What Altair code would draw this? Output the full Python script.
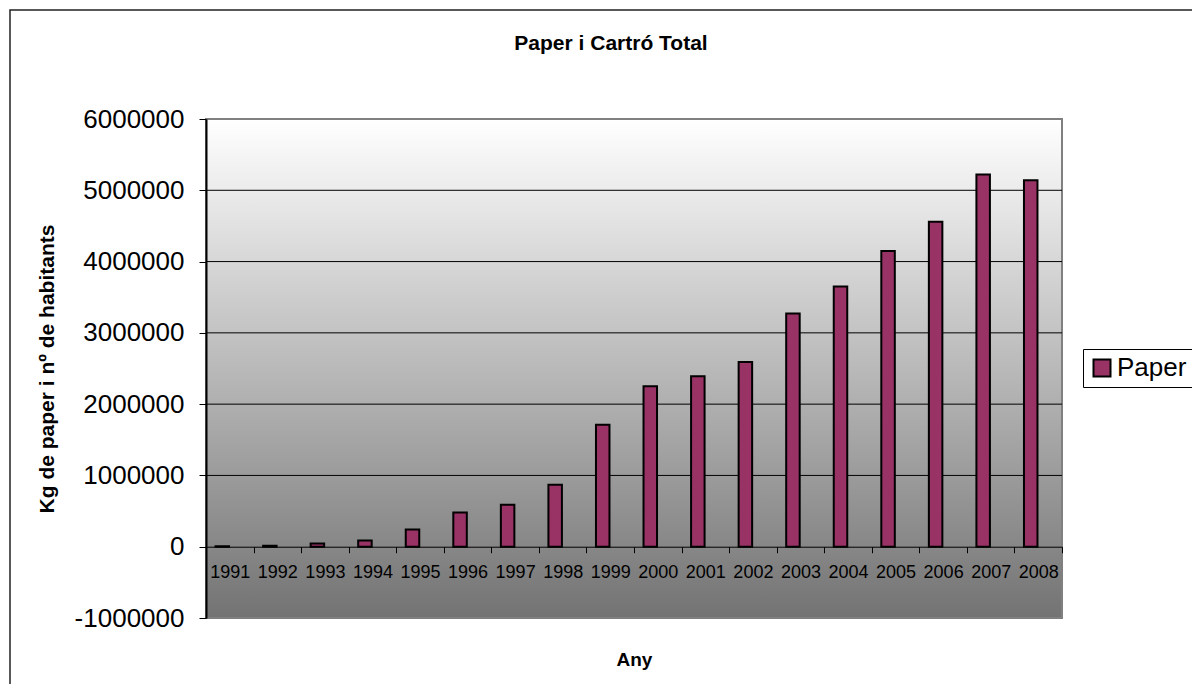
import altair as alt
import pandas as pd

years = ["1991", "1992", "1993", "1994", "1995", "1996", "1997", "1998", "1999",
         "2000", "2001", "2002", "2003", "2004", "2005", "2006", "2007", "2008"]
paper = [8000, 12000, 45000, 88000, 240000, 480000, 590000, 870000, 1710000,
         2250000, 2390000, 2590000, 3270000, 3650000, 4150000, 4560000, 5220000, 5140000]
series_name = "Paper"
chart_title = "Paper i Cartró Total"
y_ticks = [-1000000, 0, 1000000, 2000000, 3000000, 4000000, 5000000, 6000000]
grid_values = [1000000, 2000000, 3000000, 4000000, 5000000]

FONT = "Liberation Sans"
W, H = 856, 499
Y_MIN, Y_MAX = -1000000, 6000000

df = pd.DataFrame({"year": years, "value": paper, "series": series_name})
grid_df = pd.DataFrame({"value": grid_values})
one = pd.DataFrame({"t": [chart_title]})

y_scale = alt.Scale(domain=[Y_MIN, Y_MAX], nice=False, zero=False)
zero_offset = -H * (0 - Y_MIN) / (Y_MAX - Y_MIN)

border = alt.Chart(one).mark_rect(
    fill="white", fillOpacity=0, stroke="#222222", strokeWidth=1.5
).encode(
    x=alt.value(-196), x2=alt.value(1014), y=alt.value(-109), y2=alt.value(594)
)

title = alt.Chart(one).mark_text(
    font=FONT, fontSize=21, fontWeight="bold", color="black",
    align="center", baseline="middle"
).encode(x=alt.value(405), y=alt.value(-75), text="t:N")

bg = alt.Chart(one).mark_rect(
    fill=alt.Gradient(
        gradient="linear",
        stops=[alt.GradientStop(color="#ffffff", offset=0),
               alt.GradientStop(color="#737373", offset=1)],
        x1=0, x2=0, y1=0, y2=1,
    ),
    stroke="#808080", strokeWidth=2,
).encode(
    x=alt.value(0), x2=alt.value(W),
    y=alt.datum(Y_MAX, scale=y_scale), y2=alt.datum(Y_MIN),
)

grid = alt.Chart(grid_df).mark_rule(color="black", strokeWidth=1).encode(
    x=alt.value(0), x2=alt.value(W),
    y=alt.Y("value:Q", scale=y_scale),
)

bars = alt.Chart(df).mark_bar(
    size=13.5, xOffset=-7.5, stroke="black", strokeWidth=2
).encode(
    x=alt.X("year:N", sort=None,
            scale=alt.Scale(paddingInner=0, paddingOuter=0),
            axis=alt.Axis(title="Any", offset=zero_offset, tickBand="extent",
                          tickSize=6, tickColor="black", domainColor="black",
                          domainWidth=1, labelAngle=0, labelFontSize=18,
                          labelFont=FONT, labelColor="black", labelPadding=11,
                          titleFont=FONT, titleFontSize=19, titleFontWeight="bold",
                          titleColor="black", titleY=113, titleBaseline="middle",
                          grid=False, zindex=1)),
    y=alt.Y("value:Q", scale=y_scale,
            axis=alt.Axis(values=y_ticks, labelExpr="toString(datum.value)",
                          labelFontSize=26, labelFont=FONT, labelColor="black",
                          tickSize=7, tickColor="black", domainColor="black",
                          domainWidth=2, labelPadding=15, grid=False,
                          title="Kg de paper i nº de habitants",
                          titleFont=FONT, titleFontSize=21, titleFontWeight="bold",
                          titleColor="black", titleX=-159, titleY=H / 2,
                          titleBaseline="middle", titleAlign="center",
                          titleAngle=270, zindex=1)),
    color=alt.Color("series:N",
                    scale=alt.Scale(domain=[series_name], range=["#993366"]),
                    legend=alt.Legend(title=None, orient="none", legendX=877,
                                      legendY=230, symbolType="square",
                                      symbolSize=289, symbolStrokeColor="black",
                                      symbolStrokeWidth=2, symbolFillColor="#993366",
                                      labelFontSize=26, labelFont=FONT,
                                      labelColor="black", strokeColor="black",
                                      padding=6, labelOffset=2)),
)

chart = alt.layer(border, bg, grid, bars, title).properties(
    width=W, height=H,
    padding={"left": 198, "top": 111, "right": 130, "bottom": 66},
    autosize=alt.AutoSizeParams(type="none"),
).configure_view(stroke=None).configure(background="white")

chart.save("out.html", embed_options={"renderer": "svg", "actions": False})
